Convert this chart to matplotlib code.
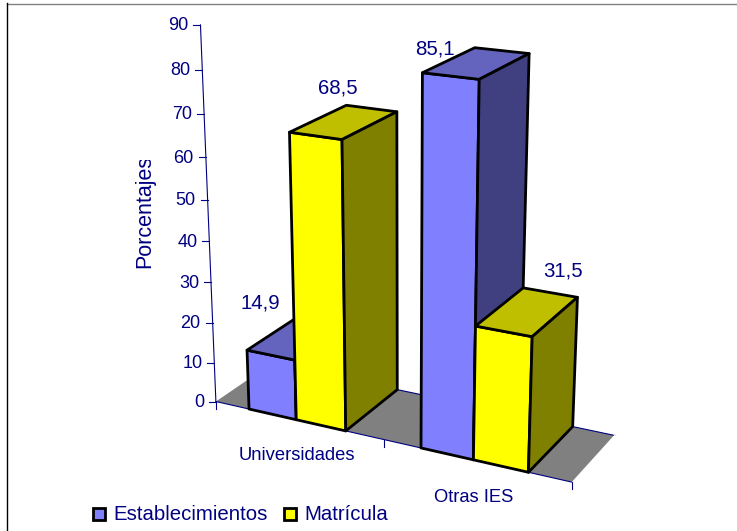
# -*- coding: utf-8 -*-
import numpy as np
import matplotlib
matplotlib.use("Agg")
import matplotlib.pyplot as plt
from matplotlib.patches import Polygon, Rectangle
from matplotlib.transforms import Bbox

plt.rcParams["font.family"] = ["Liberation Sans", "DejaVu Sans"]

# data
categories = ["Universidades", "Otras IES"]
series_names = ["Establecimientos", "Matrícula"]
establecimientos = [14.9, 85.1]
matricula = [68.5, 31.5]
value_ticks = [0, 10, 20, 30, 40, 50, 60, 70, 80, 90]

# colours: front, top, side
blue = ["#8080FF", "#6464BE", "#404080"]
yellow = ["#FFFF00", "#BFBF00", "#808000"]
navy = "#000080"

W, H = 737, 531
fig = plt.figure(figsize=(W / 100, H / 100), dpi=100)
ax = fig.add_axes([0, 0, 1, 1])
ax.set_xlim(0, W)
ax.set_ylim(H, 0)
ax.axis("off")

# bar edges inside one category
left, mid, right = .205, .49, .78

# camera of the fake 3D view, fitted on (category pos, depth, value) -> pixel
view_3d = [(0, 0, 0), (2, 0, 0), (2, 1, 0), (0, 0, 90), (0, 0, 50),
           (mid, 0, 68.5), (right, 0, 68.5), (right, 1, 68.5), (mid, 1, 68.5),
           (1 + left, 0, 85.1), (1 + mid, 0, 85.1), (1 + mid, 1, 85.1), (1 + left, 1, 85.1),
           (1 + mid, 0, 31.5), (1 + right, 0, 31.5), (1 + right, 1, 31.5), (1 + mid, 1, 31.5),
           (left, 0, 14.9), (mid, 0, 14.9),
           (left, 0, 0), (mid, 0, 0), (right, 0, 0), (right, 1, 0),
           (1 + left, 0, 0), (1 + mid, 0, 0), (1 + right, 0, 0), (1 + right, 1, 0)]
view_px = [(216, 402), (571.7, 482), (613, 435.7), (200, 25), (208.5, 200),
           (289.3, 132.3), (341.7, 139.3), (396.7, 111.7), (346.7, 105),
           (421.7, 72), (479.3, 80), (529.3, 53.3), (475, 48.3),
           (476.7, 326.7), (531.7, 336.7), (576.7, 296.7), (524, 287.7),
           (247.3, 350), (295, 360),
           (248.3, 409.3), (296, 419.3), (345.7, 430.7), (397, 389.3),
           (420.7, 447.7), (474, 460), (528.3, 471.7), (573, 427.3)]

A, b = [], []
for (u, v, z), (px, py) in zip(view_3d, view_px):
    A.append([u, v, z, 1, 0, 0, 0, 0, -px * u, -px * v, -px * z])
    A.append([0, 0, 0, 0, u, v, z, 1, -py * u, -py * v, -py * z])
    b += [px, py]
cam = np.linalg.lstsq(np.array(A, float), np.array(b, float), rcond=None)[0]


def project(u, v, z):
    w = cam[8] * u + cam[9] * v + cam[10] * z + 1
    return ((cam[0] * u + cam[1] * v + cam[2] * z + cam[3]) / w,
            (cam[4] * u + cam[5] * v + cam[6] * z + cam[7]) / w)


def face(points, color):
    ax.add_patch(Polygon([project(*p) for p in points], closed=True,
                         facecolor=color, edgecolor="black", linewidth=2,
                         joinstyle="round", zorder=3))


def bar(u0, u1, value, colors):
    face([(u0, 0, 0), (u1, 0, 0), (u1, 0, value), (u0, 0, value)], colors[0])
    face([(u0, 0, value), (u1, 0, value), (u1, 1, value), (u0, 1, value)], colors[1])
    face([(u1, 0, 0), (u1, 1, 0), (u1, 1, value), (u1, 0, value)], colors[2])


# outer frame lines
ax.plot([7, W], [3.5, 3.5], color="#808080", lw=1)
ax.plot([7.5, 7.5], [3, H], color="black", lw=1)

# floor
floor_end = 2.005
corners = [(0, 0, 0), (floor_end, 0, 0), (floor_end, 1, 0), (0, 1, 0)]
ax.add_patch(Polygon([project(*p) for p in corners], closed=True,
                     facecolor="#808080", edgecolor="none"))
for p, q, c in [((0, 0, 0), (floor_end, 0, 0), navy), ((0, 1, 0), (floor_end, 1, 0), navy),
                ((floor_end, 0, 0), (floor_end, 1, 0), "white")]:
    ax.plot(*zip(project(*p), project(*q)), color=c, lw=0.8)

# value axis
ax.plot(*zip(project(0, 0, 0), project(0, 0, value_ticks[-1])), color=navy, lw=0.8)
for t in value_ticks:
    x, y = project(0, 0, t)
    ax.plot([x - 7, x], [y, y], color=navy, lw=0.8)
    ax.text(x - 12, y + 1, str(t), ha="right", va="center", fontsize=13, color=navy)

# category axis ticks
for u in [0, 1, floor_end]:
    x, y = project(u, 0, 0)
    ax.plot([x, x], [y, y + 7], color=navy, lw=0.8)

# bars
for i in range(len(categories)):
    bar(i + left, i + mid, establecimientos[i], blue)
    bar(i + mid, i + right, matricula[i], yellow)

# texts
for name, x, y in zip(categories, [296.5, 474], [456, 497]):
    ax.text(x, y, name, ha="center", va="center", fontsize=13.2, color=navy)

label_x = [260, 435, 338, 563]
label_y = [303, 49, 88, 271]
for v, x, y in zip(establecimientos + matricula, label_x, label_y):
    ax.text(x, y, f"{v:.1f}".replace(".", ","), ha="center", va="center",
            fontsize=14.7, color=navy)

ylab = ax.text(145, 268, "Porcentajes", rotation=90, ha="center", va="bottom",
               fontsize=15.5, color=navy)
ylab.set_clip_on(True)
ylab.set_clip_box(Bbox([[100, H - 300], [200, H - 160]]))

# legend
for name, box_x, text_x, color in zip(series_names, [93, 284.5], [113, 304],
                                      [blue[0], yellow[0]]):
    ax.add_patch(Rectangle((box_x, 508), 12, 12, facecolor=color,
                           edgecolor="black", linewidth=2))
    ax.text(text_x, 515, name, ha="left", va="center", fontsize=14.7, color=navy)

fig.savefig("out.png", dpi=100)
